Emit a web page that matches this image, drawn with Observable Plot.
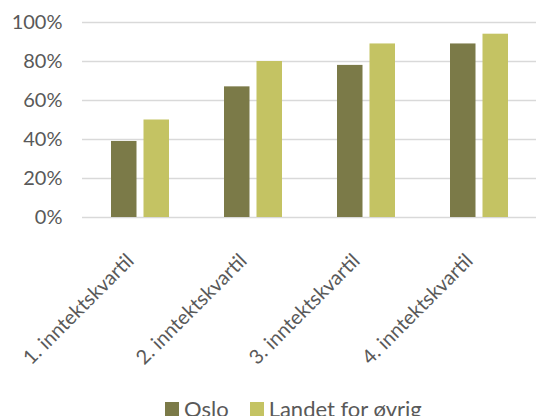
<!DOCTYPE html>
<html>
<head>
<meta charset="utf-8">
<script src="https://cdn.jsdelivr.net/npm/d3@7"></script>
<script src="https://cdn.jsdelivr.net/npm/@observablehq/plot@0.6"></script>
<style>
  html, body { margin: 0; padding: 0; background: #fff; overflow: hidden; }
  #chart { width: 546px; height: 416px; position: relative; overflow: hidden; }
  .legend { position: absolute; left: 165px; top: 395px; display: flex; align-items: center;
            font-family: Lato, "Open Sans", sans-serif; font-size: 22px; color: #595959; white-space: nowrap; }
  .legend .sw { width: 14px; height: 14px; display: inline-block; margin-right: 5px; }
  .legend .item { display: flex; align-items: center; margin-right: 21px; }
</style>
</head>
<body>
<div id="chart"></div>
<script>
const categories = ["1. inntektskvartil", "2. inntektskvartil", "3. inntektskvartil", "4. inntektskvartil"];
const seriesNames = ["Oslo", "Landet for øvrig"];
const oslo = [0.39, 0.67, 0.78, 0.89];
const landet = [0.50, 0.80, 0.89, 0.94];
const colors = ["#7b7a48", "#c4c363"];
const yTicks = [0, 0.2, 0.4, 0.6, 0.8, 1.0];

const rowsOslo = categories.map((c, i) => ({category: c, series: seriesNames[0], value: oslo[i]}));
const rowsLandet = categories.map((c, i) => ({category: c, series: seriesNames[1], value: landet[i]}));

const step = 113.5, bw = 58, barW = 25.5;
const pInner = 1 - bw / step;
const plot = Plot.plot({
  width: 546,
  height: 400,
  marginLeft: 82,
  marginRight: 10,
  marginTop: 22,
  marginBottom: 183,
  style: {fontFamily: "Lato, 'Open Sans', sans-serif", fontSize: "20px", color: "#595959", background: "#fff"},
  x: {domain: categories, paddingInner: pInner, paddingOuter: pInner / 2, align: 0.5, label: null},
  y: {domain: [0, 1], ticks: yTicks, tickFormat: d3.format(".0%"), tickSize: 0, tickPadding: 20, label: null},
  color: {domain: seriesNames, range: colors},
  marks: [
    Plot.ruleY(yTicks, {stroke: "#d9d9d9", strokeWidth: 1.5}),
    Plot.barY(rowsOslo, {x: "category", y: "value", fill: "series", insetRight: bw - barW, insetLeft: 0}),
    Plot.barY(rowsLandet, {x: "category", y: "value", fill: "series", insetLeft: bw - barW, insetRight: 0}),
    Plot.axisX({tickRotate: -45, tickSize: 0, tickPadding: 40, dx: -10, label: null, fill: "#595959"})
  ]
});
const chart = document.getElementById("chart");
chart.appendChild(plot);

const legend = document.createElement("div");
legend.className = "legend";
seriesNames.forEach((name, i) => {
  const item = document.createElement("span");
  item.className = "item";
  const sw = document.createElement("span");
  sw.className = "sw";
  sw.style.background = colors[i];
  item.appendChild(sw);
  item.appendChild(document.createTextNode(name));
  legend.appendChild(item);
});
chart.appendChild(legend);
</script>
</body>
</html>
